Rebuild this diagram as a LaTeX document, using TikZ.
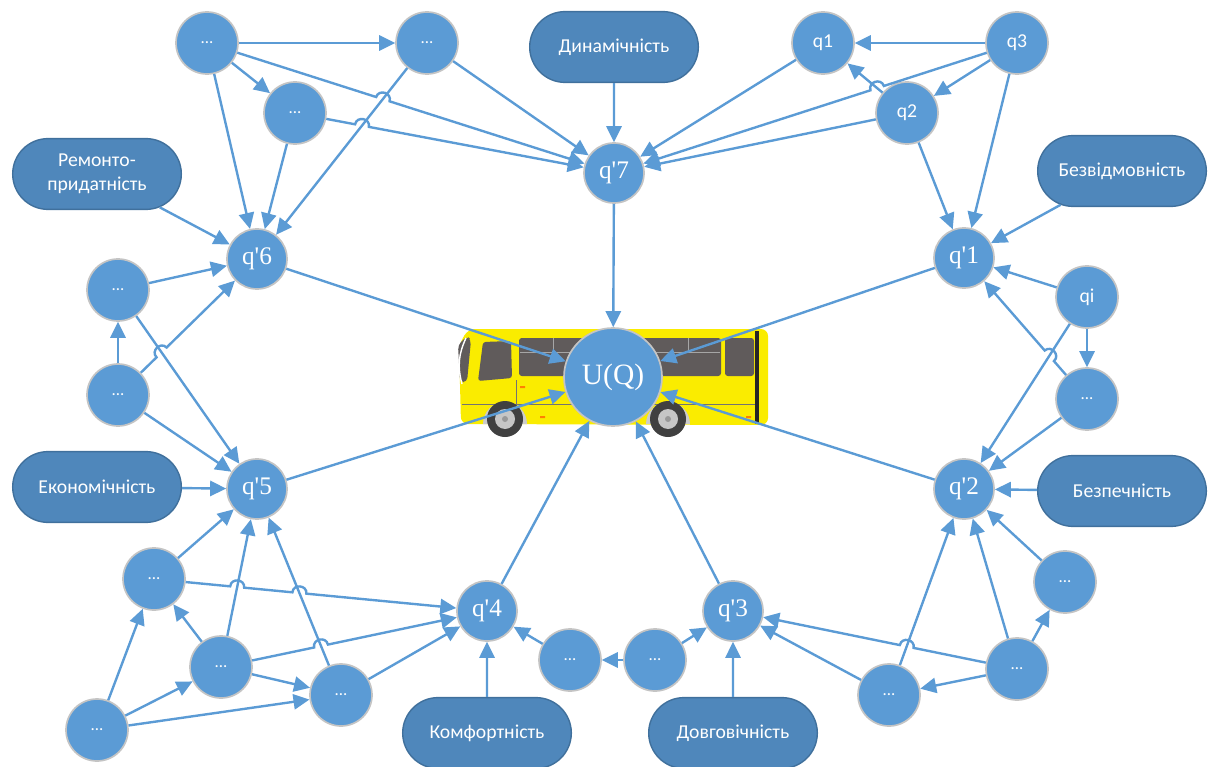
\documentclass[tikz,border=0pt]{standalone}
\usepackage{fontspec}
\setmainfont{Carlito}
\newfontfamily\qfont{Liberation Serif}
\usetikzlibrary{arrows.meta,shapes.misc,calc}
\definecolor{nodeblue}{RGB}{91,155,213}
\definecolor{rimgray}{RGB}{196,196,196}
\definecolor{pillblue}{RGB}{79,135,187}
\definecolor{pillrim}{RGB}{64,112,156}
\definecolor{busyellow}{RGB}{250,236,0}
\definecolor{glass}{RGB}{96,91,91}
\newcommand{\qp}[1]{q\textquotesingle#1}
\begin{document}
\begin{tikzpicture}[x=0.25mm,y=-0.25mm,
  dot/.style={circle,fill=nodeblue,draw=rimgray,line width=1.2pt,minimum size=15.5mm,inner sep=0pt,text=white,font=\fontsize{12}{12}\selectfont},
  qn/.style={dot,font=\fontsize{14}{14}\selectfont},
  qq/.style={dot,minimum size=15mm,font=\qfont\fontsize{18}{18}\selectfont},
  pill/.style={rounded rectangle,fill=pillblue,draw=pillrim,line width=1pt,minimum width=44.5mm,minimum height=17.7mm,text=white,align=center,font=\fontsize{14}{17}\selectfont},
  arr/.style={draw=nodeblue,line width=1.7pt,-{Triangle[length=4mm,width=3.8mm]}},
  hl/.style={bend left=90,looseness=1.6},
  hr/.style={bend right=90,looseness=1.6}]
\useasboundingbox (0,0) rectangle (1210,767);

% bus
\fill[busyellow,rounded corners=5pt] (461,424) -- (459,345) -- (468,329) -- (768,329) -- (768,425) -- cycle;
\fill[glass,rounded corners=3pt] (458,345) -- (467,336) -- (471,340) -- (467,382) -- (460,382) -- cycle;
\draw[white,line width=1pt] (462,384) to[bend left=20] (466,338);
\fill[glass,rounded corners=2pt] (483,342) -- (511,341) -- (512,378) -- (478,381) -- cycle;
\fill[glass,rounded corners=2pt] (519,338) rectangle (721,376);
\fill[glass,rounded corners=2pt] (725,338) rectangle (754,376);
\draw[gray!70,line width=0.6pt] (520,352) -- (720,352) (553,338) -- (553,352) (688,338) -- (688,352);
\fill[black!85] (755,331) rectangle (759,424);
\draw[black!55,line width=0.6pt] (462,404) -- (755,404) (516,380) -- (516,424);
\fill[orange] (520,386) rectangle (525,388) (540,416) rectangle (545,418) (746,416) rectangle (751,418);
\fill[gray!40] (483,424) arc[start angle=180,end angle=360,radius=22];
\fill[gray!40] (646,424) arc[start angle=180,end angle=360,radius=22];
\fill[black!75] (505,419) circle (18);
\fill[gray!45] (505,419) circle (10);
\fill[gray!80] (505,419) circle (3);
\fill[black!75] (668,419) circle (18);
\fill[gray!45] (668,419) circle (10);
\fill[gray!80] (668,419) circle (3);

\node[dot,minimum size=24.5mm,font=\qfont\fontsize{21}{21}\selectfont] (uq) at (613,377) {U(Q)};

\node[pill] (dyn) at (614,47) {Динамічність};
\node[pill] (rel) at (1122,171) {Безвідмовність};
\node[pill] (saf) at (1122,491) {Безпечність};
\node[pill] (dur) at (733,733) {Довговічність};
\node[pill] (com) at (487,733) {Комфортність};
\node[pill] (eco) at (97,487) {Економічність};
\node[pill] (rep) at (97,174) {Ремонто-\\придатність};

\node[qq] (p7) at (614,173) {\qp7};
\node[qq] (p1) at (964,258) {\qp1};
\node[qq] (p2) at (964,489) {\qp2};
\node[qq] (p3) at (733,611) {\qp3};
\node[qq] (p4) at (487,611) {\qp4};
\node[qq] (p5) at (257,489) {\qp5};
\node[qq] (p6) at (257,259) {\qp6};

\node[dot] (a1) at (207,43) {...};
\node[dot] (a2) at (427,43) {...};
\node[dot] (a3) at (295,113) {...};
\node[qn] (q1) at (823,43) {q1};
\node[qn] (q3) at (1017,43) {q3};
\node[qn] (q2) at (907,113) {q2};
\node[qn] (qi) at (1087,297) {qi};
\node[dot] (r1) at (1087,399) {...};
\node[dot] (r2) at (1065,582) {...};
\node[dot] (r3) at (1017,669) {...};
\node[dot] (r4) at (889,695) {...};
\node[dot] (m2) at (655,660) {...};
\node[dot] (m1) at (570,660) {...};
\node[dot] (b3) at (341,695) {...};
\node[dot] (b2) at (221,667) {...};
\node[dot] (b1) at (154,579) {...};
\node[dot] (b0) at (97,730) {...};
\node[dot] (l1) at (118,290) {...};
\node[dot] (l2) at (118,395) {...};

\coordinate (h1) at (intersection of a1--p7 and a2--p6);
\coordinate (h2) at (intersection of a3--p7 and a2--p6);
\coordinate (h3) at (intersection of q3--p7 and q2--q1);
\coordinate (h4) at (intersection of r1--p1 and qi--p2);
\coordinate (h5) at (intersection of l2--p6 and l1--p5);
\coordinate (h6) at (intersection of b1--p4 and b2--p5);
\coordinate (h7) at (intersection of b1--p4 and b3--p5);
\coordinate (h8) at (intersection of b2--p4 and b3--p5);
\coordinate (h9) at (intersection of r3--p3 and r4--p2);

\draw[arr] (a1) -- (a2);
\draw[arr] (a1) -- (a3);
\draw[arr] (a1) -- (p6);
\draw[arr] (a3) -- (p6);
\draw[arr] (a2) -- (p6);
\draw[arr] (a2) -- (p7);
\draw[arr] (a1) -- ($(h1)!5pt!(a1)$) to[hl] ($(h1)!5pt!(p7)$) -- (p7);
\draw[arr] (a3) -- ($(h2)!5pt!(a3)$) to[hl] ($(h2)!5pt!(p7)$) -- (p7);
\draw[arr] (rep) -- (p6);
\draw[arr] (dyn) -- (p7);
\draw[arr] (q3) -- (q1);
\draw[arr] (q3) -- (q2);
\draw[arr] (q2) -- (q1);
\draw[arr] (q1) -- (p7);
\draw[arr] (q2) -- (p7);
\draw[arr] (q3) -- ($(h3)!5pt!(q3)$) to[hr] ($(h3)!5pt!(p7)$) -- (p7);
\draw[arr] (q2) -- (p1);
\draw[arr] (q3) -- (p1);
\draw[arr] (rel) -- (p1);
\draw[arr] (qi) -- (p1);
\draw[arr] (qi) -- (r1);
\draw[arr] (qi) -- (p2);
\draw[arr] (r1) -- ($(h4)!5pt!(r1)$) to[hr] ($(h4)!5pt!(p1)$) -- (p1);
\draw[arr] (r1) -- (p2);
\draw[arr] (saf) -- (p2);
\draw[arr] (r2) -- (p2);
\draw[arr] (r3) -- (p2);
\draw[arr] (r4) -- (p2);
\draw[arr] (r3) -- (r2);
\draw[arr] (r3) -- (r4);
\draw[arr] (r4) -- (p3);
\draw[arr] (r3) -- ($(h9)!5pt!(r3)$) to[hr] ($(h9)!5pt!(p3)$) -- (p3);
\draw[arr] (dur) -- (p3);
\draw[arr] (m2) -- (p3);
\draw[arr] (m2) -- (m1);
\draw[arr] (m1) -- (p4);
\draw[arr] (com) -- (p4);
\draw[arr] (l2) -- (l1);
\draw[arr] (l1) -- (p6);
\draw[arr] (l2) -- ($(h5)!5pt!(l2)$) to[hl] ($(h5)!5pt!(p6)$) -- (p6);
\draw[arr] (l1) -- (p5);
\draw[arr] (l2) -- (p5);
\draw[arr] (eco) -- (p5);
\draw[arr] (b1) -- (p5);
\draw[arr] (b2) -- (p5);
\draw[arr] (b3) -- (p5);
\draw[arr] (b1) -- ($(h6)!5pt!(b1)$) to[hl] ($(h6)!5pt!(p4)$) -- ($(h7)!5pt!(b1)$) to[hl] ($(h7)!5pt!(p4)$) -- (p4);
\draw[arr] (b2) -- ($(h8)!5pt!(b2)$) to[hl] ($(h8)!5pt!(p4)$) -- (p4);
\draw[arr] (b3) -- (p4);
\draw[arr] (b2) -- (b1);
\draw[arr] (b2) -- (b3);
\draw[arr] (b0) -- (b1);
\draw[arr] (b0) -- (b2);
\draw[arr] (b0) -- (b3);

\draw[arr] (p7) -- (uq);
\draw[arr] (p6) -- (uq);
\draw[arr] (p1) -- (uq);
\draw[arr] (p5) -- (uq);
\draw[arr] (p2) -- (uq);
\draw[arr] (p4) -- (uq);
\draw[arr] (p3) -- (uq);
\end{tikzpicture}
\end{document}
